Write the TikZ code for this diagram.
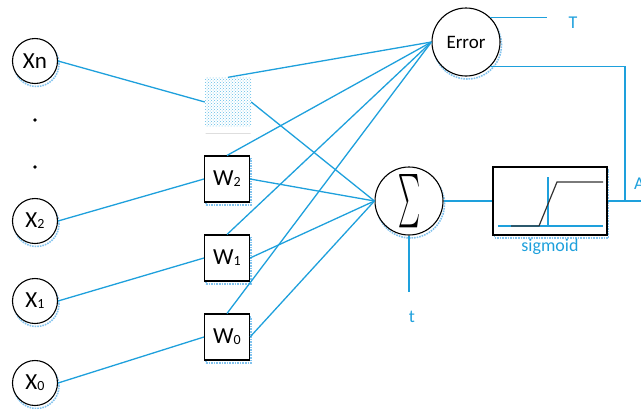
\documentclass[tikz,border=0pt]{standalone}
\usepackage{fontspec}
\setmainfont{Carlito}
\usepackage{graphicx}
\usetikzlibrary{patterns}
\definecolor{lblue}{RGB}{30,160,220}
\definecolor{sblue}{RGB}{130,195,238}
\tikzset{
  conn/.style={draw=lblue, line width=1.3pt},
  shadowc/.style={preaction={draw=sblue, densely dotted, line width=1.6pt, transform canvas={shift={(1.5pt,-3pt)}}}},
  innode/.style={circle, draw=black, line width=1.1pt, fill=white, minimum size=45pt, inner sep=0pt, font=\fontsize{23}{23}\selectfont, shadowc},
  bignode/.style={circle, draw=black, line width=1.1pt, fill=white, minimum size=68pt, inner sep=0pt, shadowc},
  wbox/.style={rectangle, draw=black, line width=1.1pt, fill=white, minimum width=45pt, minimum height=46pt, inner sep=0pt, font=\fontsize{23}{23}\selectfont,
    preaction={draw=sblue, densely dotted, line width=1.6pt, transform canvas={shift={(1.5pt,-3pt)}}}},
  lbl/.style={text=lblue, inner sep=0pt}
}
\newcommand{\sbs}[1]{\raisebox{-1pt}{\fontsize{14}{14}\selectfont #1}}
\begin{document}
\begin{tikzpicture}[x=1pt,y=-1pt]
\useasboundingbox (0,0) rectangle (641,408);
% inputs
\node[innode] (xn) at (35,61) {Xn};
\node[innode] (x2) at (35,221) {X\sbs{2}};
\node[innode] (x1) at (35,301) {X\sbs{1}};
\node[innode] (x0) at (35,383) {X\sbs{0}};
\node[circle, fill=black, inner sep=1.4pt] (d1) at (35,120) {};
\node[circle, fill=black, inner sep=1.4pt] (d2) at (35,167) {};
% weights
\node[rectangle, minimum width=46pt, minimum height=49pt, inner sep=0pt, pattern=crosshatch dots, pattern color=lblue!70] (wn) at (228,102) {};
\node[rectangle, inner sep=0pt, minimum width=45pt, minimum height=0pt, draw=black!20, line width=0.8pt] (wl) at (228,133) {};
\node[wbox] (w2) at (227,179) {W\sbs{2}};
\node[wbox] (w1) at (227,258) {W\sbs{1}};
\node[wbox] (w0) at (227,337) {W\sbs{0}};
% error and sum
\node[bignode, font=\fontsize{19}{19}\selectfont] (err) at (466,42) {Error};
\node[bignode] (sum) at (409,201) {\resizebox{22pt}{40pt}{$\textstyle\sum$}};
% sigmoid
\node[rectangle, draw=black, line width=1.1pt, fill=white, minimum width=114pt, minimum height=68pt, inner sep=0pt,
  preaction={draw=sblue, densely dotted, line width=1.6pt, transform canvas={shift={(1.5pt,-3pt)}}}] (sig) at (550,201) {};
\draw[lblue, line width=1.2pt] (498,226) -- (603,226);
\draw[lblue, line width=1.2pt] (548,177) -- (548,226);
\draw[black!80, line width=1.2pt] (511,226) -- (539,226) -- (557,182) -- (603,182);
\node[lbl, font=\fontsize{18}{18}\selectfont] (siglab) at (550,247) {sigmoid};
% labels
\node[lbl, font=\fontsize{18}{18}\selectfont] (tT) at (573,23) {T};
\node[lbl, font=\fontsize{18}{18}\selectfont] (tt) at (412,317) {t};
\node[lbl, font=\fontsize{18}{18}\selectfont, anchor=west] (tA) at (634,184) {A};
\coordinate (tend) at (547,18);
\coordinate (tbot) at (409,292);
\coordinate (corner) at (625,66);
\coordinate (outj) at (625,201);
\coordinate (outend) at (641,201);
% connectors inputs
\draw[conn] (xn.east) -- (wn.west);
\draw[conn] (x2.east) -- (w2.west);
\draw[conn] (x1.east) -- (w1.west);
\draw[conn] (x0.east) -- (w0.west);
% to error
\draw[conn] (wn.north) -- (err.west);
\draw[conn] (w2.north) -- (err.west);
\draw[conn] (w1.north) -- (err.west);
\draw[conn] (w0.north) -- (err.west);
% to sum
\draw[conn] (wn.east) -- (sum.west);
\draw[conn] (w2.east) -- (sum.west);
\draw[conn] (w1.east) -- (sum.west);
\draw[conn] (w0.east) -- (sum.west);
% others
\draw[conn] (sum.south) -- (tbot);
\draw[conn] (sum.east) -- (sig.west);
\draw[conn] (sig.east) -- (outend);
\draw[conn] (err.-45) -- (err.-45 -| corner) -- (outj);
\draw[conn] (err.45) -- (err.45 -| tend);
\end{tikzpicture}
\end{document}
